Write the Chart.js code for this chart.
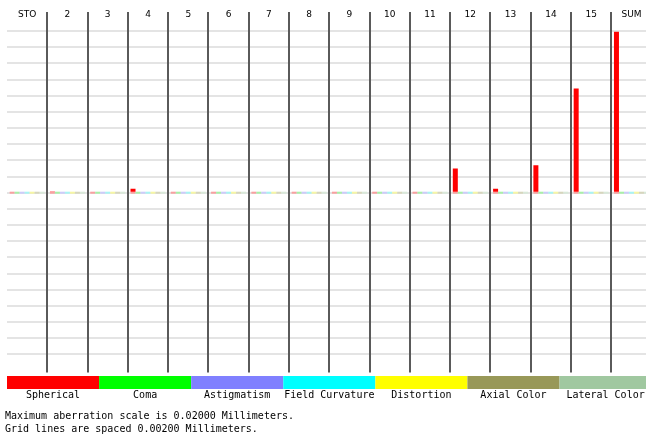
<!DOCTYPE html>
<html>
<head>
<meta charset="utf-8">
<script src="https://cdn.jsdelivr.net/npm/chart.js@4.4.0/dist/chart.umd.min.js"></script>
<style>
  html, body { margin: 0; padding: 0; background: #fff; overflow: hidden; }
  #wrap { width: 660px; height: 441px; }
</style>
</head>
<body>
<div id="wrap"><canvas id="seidel" width="660" height="441"></canvas></div>
<script>
// Surfaces (columns)
const surfaces = ['STO', '2', '3', '4', '5', '6', '7', '8', '9', '10', '11', '12', '13', '14', '15', 'SUM'];

// Aberration names + colours
const aberrations = ['Spherical', 'Coma', 'Astigmatism', 'Field Curvature', 'Distortion', 'Axial Color', 'Lateral Color'];
const aberrationColors = ['#ff0000', '#00ff00', '#8080ff', '#00ffff', '#ffff00', '#989858', '#a0c8a0'];
const paleColors = ['#f8a0a0', '#a8f0a8', '#ccccfa', '#a8f4f4', '#f6f6a4', '#d6d6bc', '#d9e9d9'];

// Seidel coefficients (mm)
const spherical = [0, 0.00015, 0, 0.0005, 0, 0, 0, 0, 0, 0, 0, 0.0030, 0.00048, 0.0034, 0.0129, 0.0199];
const coma = [0, 0, 0, 0, 0, 0, 0, 0, 0, 0, 0, 0, 0, 0, 0, 0];
const astigmatism = [0, 0, 0, 0, 0, 0, 0, 0, 0, 0, 0, 0, 0, 0, 0, 0];
const fieldCurvature = [0, 0, 0, 0, 0, 0, 0, 0, 0, 0, 0, 0, 0, 0, 0, 0];
const distortion = [0, 0, 0, 0, 0, 0, 0, 0, 0, 0, 0, 0, 0, 0, 0, 0];
const axialColor = [0, 0, 0, 0, 0, 0, 0, 0, 0, 0, 0, 0, 0, 0, 0, 0];
const lateralColor = [0, 0, 0, 0, 0, 0, 0, 0, 0, 0, 0, 0, 0, 0, 0, 0];

// Scale
const maxScale = 0.02;
const gridStep = 0.002;
const footer = [
  'Maximum aberration scale is 0.02000 Millimeters.',
  'Grid lines are spaced 0.00200 Millimeters.'
];

const series = [spherical, coma, astigmatism, fieldCurvature, distortion, axialColor, lateralColor];

// pale marks on the zero line for every bar slot
const baselinePlugin = {
  id: 'baseline',
  beforeDatasetsDraw(chart) {
    const ctx = chart.ctx;
    const y0 = chart.scales.y.getPixelForValue(0);
    ctx.save();
    chart.data.datasets.forEach((ds, i) => {
      const meta = chart.getDatasetMeta(i);
      ctx.fillStyle = paleColors[i];
      meta.data.forEach(bar => {
        ctx.fillRect(bar.x - bar.width / 2, y0 - 1, bar.width, 2);
      });
    });
    ctx.restore();
  }
};

// column separators + legend strip + footer text
const decorPlugin = {
  id: 'decor',
  afterDraw(chart) {
    const ctx = chart.ctx;
    const xs = chart.scales.x;
    const area = chart.chartArea;
    const catW = (area.right - area.left) / surfaces.length;
    ctx.save();
    ctx.strokeStyle = '#5a5a5a';
    ctx.lineWidth = 2;
    for (let i = 1; i < surfaces.length; i++) {
      const x = Math.round(xs.getPixelForValue(i) - catW / 2);
      ctx.beginPath();
      ctx.moveTo(x, 12);
      ctx.lineTo(x, 372.5);
      ctx.stroke();
    }

    const segW = (area.right - area.left) / aberrations.length;
    ctx.font = '10px "DejaVu Sans Mono"';
    ctx.textAlign = 'center';
    ctx.textBaseline = 'alphabetic';
    aberrations.forEach((name, i) => {
      const x0 = area.left + i * segW;
      ctx.fillStyle = aberrationColors[i];
      ctx.fillRect(x0, 376, segW, 13);
      ctx.fillStyle = '#000';
      ctx.fillText(name, x0 + segW / 2, 398);
    });

    ctx.textAlign = 'left';
    ctx.fillText(footer[0], 5, 419);
    ctx.fillText(footer[1], 5, 432);
    ctx.restore();
  }
};

new Chart(document.getElementById('seidel'), {
  type: 'bar',
  data: {
    labels: surfaces,
    datasets: aberrations.map((name, i) => ({
      label: name,
      data: series[i],
      backgroundColor: aberrationColors[i],
      borderWidth: 0
    }))
  },
  options: {
    responsive: false,
    animation: false,
    layout: { padding: { left: 7, right: 8.4, top: 0, bottom: 86.6 } },
    datasets: { bar: { categoryPercentage: 35 / 40.3, barPercentage: 1 } },
    plugins: {
      legend: { display: false },
      tooltip: { enabled: false }
    },
    scales: {
      x: {
        position: 'top',
        offset: true,
        grid: { display: false, drawTicks: false },
        border: { display: false },
        ticks: {
          padding: 11,
          color: '#000',
          autoSkip: false,
          maxRotation: 0,
          font: { family: 'DejaVu Sans', size: 9 }
        },
        afterFit: s => { s.height = 31; }
      },
      y: {
        min: -maxScale,
        max: maxScale,
        border: { display: false },
        grid: { color: '#e4e4e4', lineWidth: 2, drawTicks: false },
        ticks: { display: false, stepSize: gridStep },
        afterFit: s => { s.width = 0; }
      }
    }
  },
  plugins: [baselinePlugin, decorPlugin]
});
</script>
</body>
</html>
